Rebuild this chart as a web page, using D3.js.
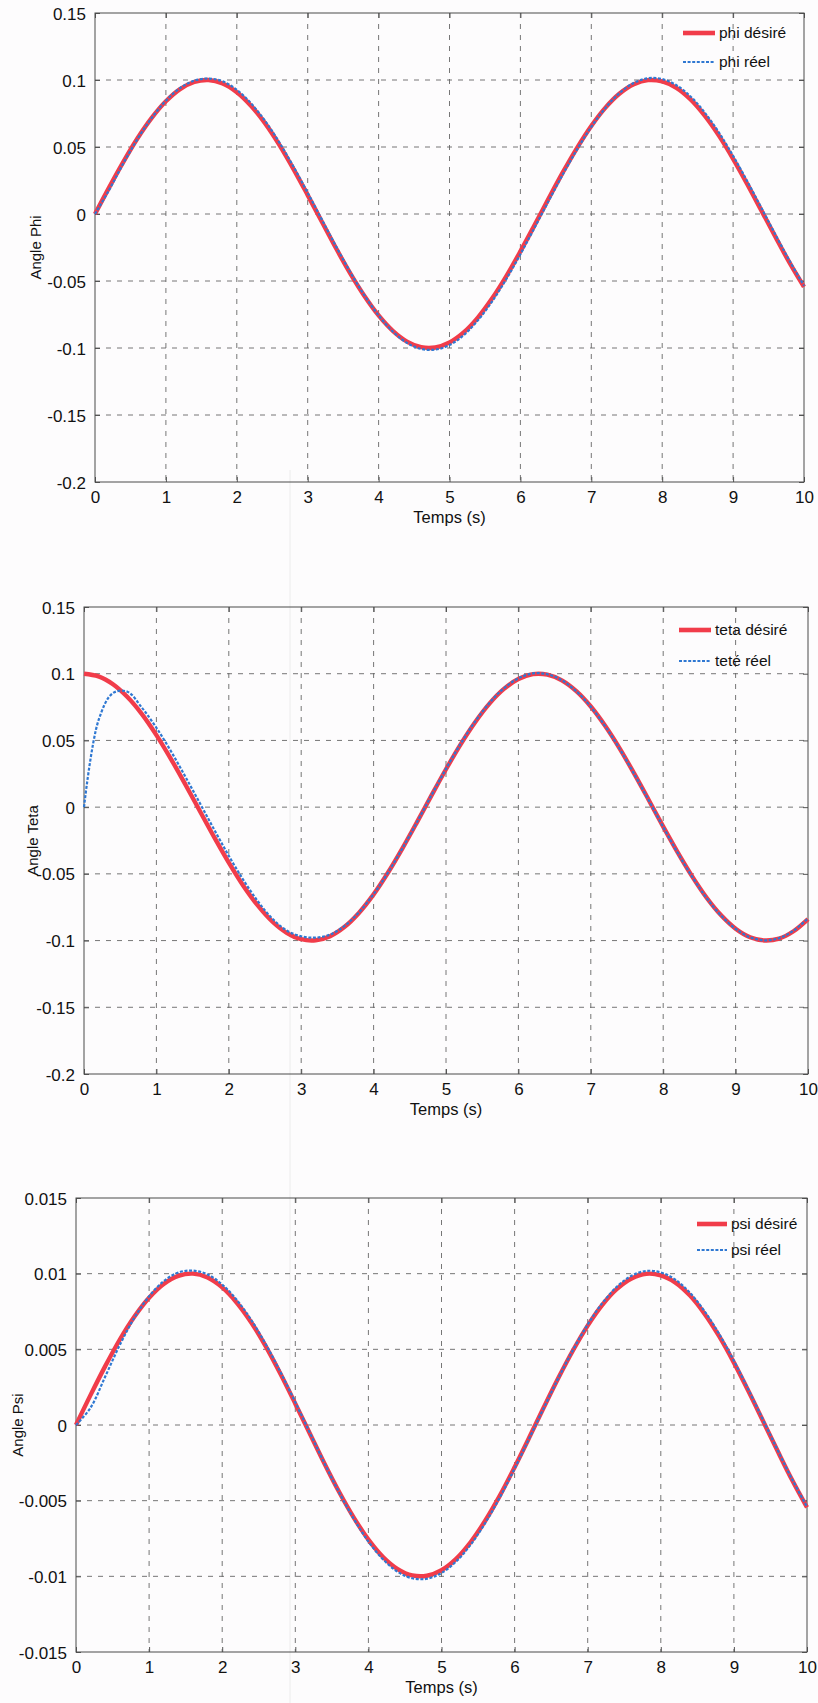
<!DOCTYPE html>
<html>
<head>
<meta charset="utf-8">
<script src="https://cdn.jsdelivr.net/npm/d3@7"></script>
<style>
  html, body { margin: 0; padding: 0; background: #fdfcfd; }
  svg { display: block; }
  text { font-family: "Liberation Sans", Arial, sans-serif; fill: #111; }
  .narrow { font-family: "Liberation Sans Narrow", "Liberation Sans", Arial, sans-serif; }
</style>
</head>
<body>
<svg id="fig" width="818" height="1703"></svg>
<script>
// Sample instants (s)
const time = [0, 0.2, 0.4, 0.6, 0.8, 1.0, 1.2, 1.4, 1.6, 1.8, 2.0, 2.2, 2.4, 2.6, 2.8, 3.0,
  3.2, 3.4, 3.6, 3.8, 4.0, 4.2, 4.4, 4.6, 4.8, 5.0, 5.2, 5.4, 5.6, 5.8, 6.0, 6.2, 6.4, 6.6,
  6.8, 7.0, 7.2, 7.4, 7.6, 7.8, 8.0, 8.2, 8.4, 8.6, 8.8, 9.0, 9.2, 9.4, 9.6, 9.8, 10.0];

// Roll angle
const phiDesired = [0, 0.0199, 0.0389, 0.0565, 0.0717, 0.0841, 0.0932, 0.0985, 0.1000, 0.0974,
  0.0909, 0.0808, 0.0676, 0.0516, 0.0335, 0.0141, -0.0058, -0.0256, -0.0443, -0.0612, -0.0757,
  -0.0872, -0.0952, -0.0994, -0.0996, -0.0959, -0.0884, -0.0773, -0.0631, -0.0465, -0.0279,
  -0.0083, 0.0117, 0.0312, 0.0494, 0.0657, 0.0794, 0.0899, 0.0968, 0.0999, 0.0989, 0.0941,
  0.0855, 0.0734, 0.0585, 0.0412, 0.0223, 0.0025, -0.0174, -0.0367, -0.0544];
const phiReal = [0, 0.0180, 0.0378, 0.0560, 0.0717, 0.0846, 0.0940, 0.0995, 0.1011, 0.0990,
  0.0926, 0.0826, 0.0694, 0.0534, 0.0353, 0.0158, -0.0042, -0.0242, -0.0433, -0.0607, -0.0757,
  -0.0877, -0.0962, -0.1007, -0.1012, -0.0978, -0.0904, -0.0794, -0.0653, -0.0487, -0.0300,
  -0.0102, 0.0099, 0.0297, 0.0482, 0.0650, 0.0792, 0.0903, 0.0978, 0.1013, 0.1007, 0.0961,
  0.0877, 0.0757, 0.0608, 0.0434, 0.0244, 0.0044, -0.0157, -0.0353, -0.0535];

// Pitch angle
const tetaDesired = [0.1000, 0.0980, 0.0921, 0.0825, 0.0697, 0.0540, 0.0362, 0.0170, -0.0029,
  -0.0227, -0.0416, -0.0589, -0.0737, -0.0857, -0.0942, -0.0990, -0.0998, -0.0967, -0.0897,
  -0.0791, -0.0654, -0.0490, -0.0307, -0.0112, 0.0088, 0.0284, 0.0469, 0.0635, 0.0776, 0.0886,
  0.0960, 0.0997, 0.0993, 0.0950, 0.0869, 0.0754, 0.0608, 0.0439, 0.0251, 0.0054, -0.0146,
  -0.0339, -0.0519, -0.0679, -0.0811, -0.0911, -0.0975, -0.0999, -0.0985, -0.0930, -0.0839];
const tetaReal = [0, 0.0650, 0.0855, 0.0865, 0.0745, 0.0595, 0.0420, 0.0228, 0.0030, -0.0170,
  -0.0365, -0.0545, -0.0705, -0.0835, -0.0925, -0.0968, -0.0978, -0.0955, -0.0890, -0.0787,
  -0.0652, -0.0490, -0.0307, -0.0112, 0.0090, 0.0287, 0.0473, 0.0640, 0.0781, 0.0891, 0.0965,
  0.1002, 0.0996, 0.0951, 0.0868, 0.0752, 0.0605, 0.0436, 0.0248, 0.0051, -0.0149, -0.0342,
  -0.0522, -0.0682, -0.0813, -0.0912, -0.0975, -0.0998, -0.0982, -0.0926, -0.0834];

// Yaw angle
const psiDesired = [0, 0.00199, 0.00389, 0.00565, 0.00717, 0.00841, 0.00932, 0.00985, 0.01000,
  0.00974, 0.00909, 0.00808, 0.00676, 0.00516, 0.00335, 0.00141, -0.00058, -0.00256, -0.00443,
  -0.00612, -0.00757, -0.00872, -0.00952, -0.00994, -0.00996, -0.00959, -0.00884, -0.00773,
  -0.00631, -0.00465, -0.00279, -0.00083, 0.00117, 0.00312, 0.00494, 0.00657, 0.00794, 0.00899,
  0.00968, 0.00999, 0.00989, 0.00941, 0.00855, 0.00734, 0.00585, 0.00412, 0.00223, 0.00025,
  -0.00174, -0.00367, -0.00544];
const psiReal = [0, 0.00115, 0.00320, 0.00530, 0.00710, 0.00850, 0.00950, 0.01008, 0.01020,
  0.00995, 0.00928, 0.00826, 0.00692, 0.00530, 0.00347, 0.00150, -0.00052, -0.00254, -0.00446,
  -0.00620, -0.00770, -0.00888, -0.00970, -0.01013, -0.01016, -0.00978, -0.00902, -0.00790,
  -0.00646, -0.00477, -0.00288, -0.00089, 0.00113, 0.00311, 0.00497, 0.00664, 0.00805, 0.00914,
  0.00986, 0.01018, 0.01008, 0.00960, 0.00873, 0.00751, 0.00600, 0.00424, 0.00232, 0.00032,
  -0.00168, -0.00362, -0.00540];

// Tick values and their labels
const xTicks = [0, 1, 2, 3, 4, 5, 6, 7, 8, 9, 10];
const yTicksAngle = [0.15, 0.1, 0.05, 0, -0.05, -0.1, -0.15, -0.2];
const yTickLabelsAngle = ["0.15", "0.1", "0.05", "0", "-0.05", "-0.1", "-0.15", "-0.2"];
const yTicksPsi = [0.015, 0.01, 0.005, 0, -0.005, -0.01, -0.015];
const yTickLabelsPsi = ["0.015", "0.01", "0.005", "0", "-0.005", "-0.01", "-0.015"];

// Axis and legend texts
const xTitle = "Temps (s)";
const yTitles = ["Angle Phi", "Angle Teta", "Angle Psi"];
const legendPhi = ["phi désiré", "phi réel"];
const legendTeta = ["teta désiré", "teté réel"];
const legendPsi = ["psi désiré", "psi réel"];

const RED = "#f13c4a";
const BLUE = "#2f78d2";

const panels = [
  { box: { l: 95, r: 804, t: 13, b: 482 }, yDomain: [-0.2, 0.15], yTicks: yTicksAngle, yLabels: yTickLabelsAngle,
    desired: phiDesired, real: phiReal, legend: legendPhi, title: yTitles[0], titleX: 36,
    leg: { x0: 683, x1: 715, y: 33, dy: 29 } },
  { box: { l: 84, r: 808, t: 607, b: 1074 }, yDomain: [-0.2, 0.15], yTicks: yTicksAngle, yLabels: yTickLabelsAngle,
    desired: tetaDesired, real: tetaReal, legend: legendTeta, title: yTitles[1], titleX: 33,
    leg: { x0: 679, x1: 711, y: 630, dy: 31 } },
  { box: { l: 76, r: 807, t: 1198, b: 1652 }, yDomain: [-0.015, 0.015], yTicks: yTicksPsi, yLabels: yTickLabelsPsi,
    desired: psiDesired, real: psiReal, legend: legendPsi, title: yTitles[2], titleX: 18,
    leg: { x0: 697, x1: 727, y: 1224, dy: 26 } }
];

const svg = d3.select("#fig");

// faint crease running down the page
svg.append("line").attr("x1", 290).attr("x2", 290).attr("y1", 470).attr("y2", 1703)
  .attr("stroke", "#ececec").attr("stroke-width", 1);

panels.forEach(p => {
  const { l, r, t, b } = p.box;
  const x = d3.scaleLinear().domain([0, 10]).range([l, r]);
  const y = d3.scaleLinear().domain(p.yDomain).range([b, t]);
  const g = svg.append("g");

  // dashed grid
  const grid = g.append("g").attr("stroke", "#666").attr("stroke-width", 0.9)
    .attr("stroke-dasharray", "5,6");
  xTicks.slice(1, -1).forEach(v => {
    grid.append("line").attr("x1", x(v)).attr("x2", x(v)).attr("y1", t).attr("y2", b);
  });
  p.yTicks.slice(1, -1).forEach(v => {
    grid.append("line").attr("x1", l).attr("x2", r).attr("y1", y(v)).attr("y2", y(v));
  });

  // bottom and left axes with inward ticks
  const xAxis = d3.axisBottom(x).tickValues(xTicks).tickFormat(d3.format("d")).tickSize(-5).tickPadding(9);
  const gx = g.append("g").attr("transform", `translate(0,${b})`).call(xAxis);
  const yAxis = d3.axisLeft(y).tickValues(p.yTicks).tickFormat((d, i) => p.yLabels[i]).tickSize(-5).tickPadding(9);
  const gy = g.append("g").attr("transform", `translate(${l},0)`).call(yAxis);
  // mirrored ticks on top and right
  const gxt = g.append("g").attr("transform", `translate(0,${t})`)
    .call(d3.axisTop(x).tickValues(xTicks).tickSize(-5).tickFormat(""));
  const gyr = g.append("g").attr("transform", `translate(${r},0)`)
    .call(d3.axisRight(y).tickValues(p.yTicks).tickSize(-5).tickFormat(""));
  [gx, gy, gxt, gyr].forEach(a => {
    a.select(".domain").remove();
    a.selectAll(".tick line").attr("stroke", "#555");
  });
  gx.selectAll(".tick text").attr("class", "narrow").attr("font-size", 17)
    .attr("font-family", null).attr("fill", "#111");
  gy.selectAll(".tick text").attr("font-size", 17).attr("font-family", null).attr("fill", "#111")
    .attr("dy", "0.36em");

  // frame
  g.append("rect").attr("x", l).attr("y", t).attr("width", r - l).attr("height", b - t)
    .attr("fill", "none").attr("stroke", "#4a4a4a").attr("stroke-width", 1);

  // series
  const line = vals => d3.line().x((d, i) => x(time[i])).y(d => y(d)).curve(d3.curveCatmullRom)(vals);
  g.append("path").attr("d", line(p.desired)).attr("fill", "none")
    .attr("stroke", RED).attr("stroke-width", 4.4).attr("stroke-linejoin", "round");
  g.append("path").attr("d", line(p.real)).attr("fill", "none")
    .attr("stroke", BLUE).attr("stroke-width", 2.2).attr("stroke-dasharray", "3,1.6");

  // legend
  const lg = g.append("g");
  lg.append("line").attr("x1", p.leg.x0).attr("x2", p.leg.x1).attr("y1", p.leg.y).attr("y2", p.leg.y)
    .attr("stroke", RED).attr("stroke-width", 4.6);
  lg.append("line").attr("x1", p.leg.x0).attr("x2", p.leg.x1).attr("y1", p.leg.y + p.leg.dy).attr("y2", p.leg.y + p.leg.dy)
    .attr("stroke", BLUE).attr("stroke-width", 2.2).attr("stroke-dasharray", "3,1.6");
  p.legend.forEach((s, i) => {
    lg.append("text").attr("x", p.leg.x1 + 4).attr("y", p.leg.y + i * p.leg.dy)
      .attr("dy", "0.35em").attr("font-size", 15.5).text(s);
  });

  // axis titles
  g.append("text").attr("class", "narrow").attr("x", (l + r) / 2).attr("y", b + 41)
    .attr("text-anchor", "middle").attr("font-size", 16.5).text(xTitle);
  g.append("text").attr("transform", `translate(${p.titleX},${(t + b) / 2}) rotate(-90)`)
    .attr("text-anchor", "middle").attr("dy", "0.35em").attr("font-size", 15).text(p.title);
});
</script>
</body>
</html>
